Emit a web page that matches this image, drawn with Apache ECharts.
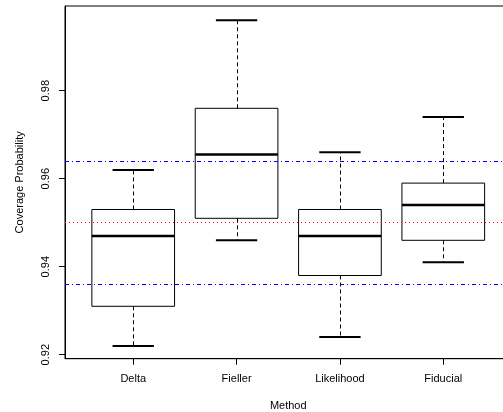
<!DOCTYPE html>
<html>
<head>
<meta charset="utf-8">
<script src="https://cdn.jsdelivr.net/npm/echarts@6/dist/echarts.min.js"></script>
<style>html,body{margin:0;padding:0;background:#fff}#c{width:503px;height:412px}</style>
</head>
<body>
<div id="c"></div>
<script>
const categories = ['Delta', 'Fieller', 'Likelihood', 'Fiducial'];
const lowerWhisker = [0.922, 0.946, 0.924, 0.941];
const lowerQuartile = [0.931, 0.951, 0.938, 0.946];
const medians = [0.947, 0.9655, 0.947, 0.954];
const upperQuartile = [0.953, 0.976, 0.953, 0.959];
const upperWhisker = [0.962, 0.996, 0.966, 0.974];
const blueLines = [0.936, 0.964];
const redLines = [0.95];
const yTicks = [0.92, 0.94, 0.96, 0.98];
const xPositions = [1, 2, 3, 4];

const FONT = 'Liberation Sans, Arial, sans-serif';
const chart = echarts.init(document.getElementById('c'), null, {renderer: 'canvas'});

const boxData = categories.map((c, i) => [xPositions[i], lowerWhisker[i], lowerQuartile[i], medians[i], upperQuartile[i], upperWhisker[i]]);

function renderBox(params, api) {
  const x = api.value(0);
  const lo = api.value(1), q1 = api.value(2), md = api.value(3), q3 = api.value(4), hi = api.value(5);
  const pL = api.coord([x - 0.4, q3]);
  const pR = api.coord([x + 0.4, q1]);
  const c = api.coord([x, md]);
  const cL = api.coord([x - 0.2, hi]);
  const cR = api.coord([x + 0.2, lo]);
  const yHi = api.coord([x, hi])[1], yLo = api.coord([x, lo])[1];
  const yQ3 = pL[1], yQ1 = pR[1];
  const cx = Math.round(c[0]) + 0.5;
  return {
    type: 'group',
    children: [
      {type: 'line', shape: {x1: cx, y1: yQ3, x2: cx, y2: yHi}, style: {stroke: '#000', lineWidth: 1, lineDash: [4, 3]}},
      {type: 'line', shape: {x1: cx, y1: yQ1, x2: cx, y2: yLo}, style: {stroke: '#000', lineWidth: 1, lineDash: [4, 3]}},
      {type: 'line', shape: {x1: cL[0], y1: yHi, x2: cR[0], y2: yHi}, style: {stroke: '#000', lineWidth: 2}},
      {type: 'line', shape: {x1: cL[0], y1: yLo, x2: cR[0], y2: yLo}, style: {stroke: '#000', lineWidth: 2}},
      {type: 'rect', shape: {x: pL[0], y: yQ3, width: pR[0] - pL[0], height: yQ1 - yQ3}, style: {stroke: '#000', fill: 'none', lineWidth: 1}},
      {type: 'line', shape: {x1: pL[0], y1: c[1], x2: pR[0], y2: c[1]}, style: {stroke: '#000', lineWidth: 2.5}}
    ]
  };
}

function refSeries(name, values, color, dash) {
  return {
    name: name, type: 'line', data: [], z: 5, silent: true, color: color,
    markLine: {
      silent: true, symbol: ['none', 'none'], animation: false, precision: 6,
      label: {show: false},
      lineStyle: {color: color, width: 1, type: dash, opacity: 1},
      emphasis: {disabled: true},
      data: values.map(v => ({yAxis: v, lineStyle: {color: color, width: 1, type: dash}}))
    }
  };
}

chart.setOption({
  animation: false,
  backgroundColor: '#fff',
  grid: {left: 65, top: 6, right: -8.5, bottom: 53.3, show: true, borderColor: '#000', borderWidth: 1, backgroundColor: 'transparent', outerBoundsMode: 'none'},
  xAxis: {
    type: 'value', min: 0.34, max: 4.66,
    name: 'Method', nameLocation: 'middle', nameGap: 42,
    nameTextStyle: {fontFamily: FONT, fontSize: 11, color: '#000'},
    splitLine: {show: false},
    axisLine: {show: true, onZero: false, lineStyle: {color: '#000'}},
    axisTick: {show: true, length: 6, customValues: xPositions, lineStyle: {color: '#000'}},
    axisLabel: {customValues: xPositions, margin: 15, fontFamily: FONT, fontSize: 11, color: '#000',
      formatter: v => categories[Math.round(v) - 1] || ''}
  },
  yAxis: {
    type: 'value', min: 0.91909, max: 0.99925,
    name: 'Coverage Probability', nameLocation: 'middle', nameGap: 40, nameRotate: 90,
    nameTextStyle: {fontFamily: FONT, fontSize: 11, color: '#000'},
    splitLine: {show: false},
    axisLine: {show: true, onZero: false, lineStyle: {color: '#000'}},
    axisTick: {show: true, length: 6, customValues: yTicks, lineStyle: {color: '#000'}},
    axisLabel: {customValues: yTicks, rotate: 90, margin: 14, fontFamily: FONT, fontSize: 11, color: '#000',
      formatter: v => v.toFixed(2)}
  },
  series: [
    {type: 'custom', renderItem: renderBox, data: boxData, z: 2, clip: false},
    refSeries('blue', blueLines, '#0000ff', [4, 3, 1, 3]),
    refSeries('red', redLines, '#ff0000', [1, 3])
  ]
});
</script>
</body>
</html>
